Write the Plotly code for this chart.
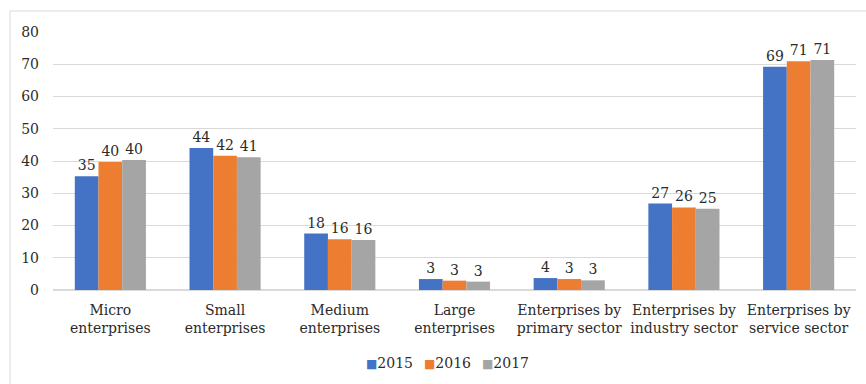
import plotly.graph_objects as go

categories = [
    "Micro<br>enterprises",
    "Small<br>enterprises",
    "Medium<br>enterprises",
    "Large<br>enterprises",
    "Enterprises by<br>primary sector",
    "Enterprises by<br>industry sector",
    "Enterprises by<br>service sector",
]
years = ["2015", "2016", "2017"]
values_2015 = [35.3, 44.0, 17.5, 3.4, 3.7, 26.8, 69.2]
values_2016 = [39.7, 41.6, 15.7, 2.9, 3.4, 25.6, 70.9]
values_2017 = [40.3, 41.2, 15.5, 2.6, 3.0, 25.2, 71.3]
y_ticks = [0, 10, 20, 30, 40, 50, 60, 70, 80]

series = [values_2015, values_2016, values_2017]
colors = ["#4472C4", "#ED7D31", "#A5A5A5"]
FONT = "DejaVu Serif"
FS = 14
TXT = "#2b2b2b"

PLOT_W, PLOT_H = 803, 258  # plot area size in px

fig = go.Figure()
for name, vals, col in zip(years, series, colors):
    fig.add_trace(go.Bar(
        name=name,
        x=categories,
        y=vals,
        marker=dict(color=col, line=dict(width=0)),
        texttemplate="%{y:.0f}",
        textposition="outside",
        constraintext="none",
        cliponaxis=False,
        textfont=dict(family=FONT, size=FS, color=TXT),
        showlegend=False,
    ))

# compact Excel-style key below the axis: coloured square + year per entry
key_center = 0.4907
key_step = 58 / PLOT_W
key_annotations = [
    dict(text=f"<span style='color:{c};font-size:12px'>■</span>{y}",
         xref="paper", yref="paper",
         x=key_center + (i - 1) * key_step, y=-0.283,
         xanchor="center", yanchor="middle", showarrow=False,
         font=dict(family=FONT, size=FS, color=TXT))
    for i, (y, c) in enumerate(zip(years, colors))
]

fig.update_layout(
    width=866,
    height=384,
    margin=dict(l=53, r=10, t=32, b=94, autoexpand=False),
    paper_bgcolor="white",
    plot_bgcolor="white",
    barmode="group",
    bargap=0.38,
    bargroupgap=0,
    font=dict(family=FONT, size=FS, color=TXT),
    xaxis=dict(
        showgrid=False,
        showline=True,
        linecolor="#d9d9d9",
        linewidth=1,
        ticks="",
        ticklabelstandoff=7,
        tickfont=dict(family=FONT, size=FS, color=TXT),
        fixedrange=True,
        automargin=False,
    ),
    yaxis=dict(
        range=[0, 80],
        tickvals=y_ticks,
        showgrid=True,
        gridcolor="#d9d9d9",
        gridwidth=1,
        zeroline=True,
        zerolinecolor="#d9d9d9",
        showline=False,
        ticks="",
        ticklabelstandoff=13,
        tickfont=dict(family=FONT, size=FS, color=TXT),
        fixedrange=True,
        automargin=False,
    ),
    annotations=key_annotations,
    shapes=[
        dict(type="line", xref="paper", yref="paper",
             x0=-43 / PLOT_W, x1=-43 / PLOT_W, y0=1 + 21 / PLOT_H, y1=-95 / PLOT_H,
             line=dict(color="#d9d9d9", width=1)),
        dict(type="line", xref="paper", yref="paper",
             x0=-43 / PLOT_W, x1=1 + 12 / PLOT_W, y0=1 + 21 / PLOT_H, y1=1 + 21 / PLOT_H,
             line=dict(color="#d9d9d9", width=1)),
    ],
)

fig.write_html("out.html")
